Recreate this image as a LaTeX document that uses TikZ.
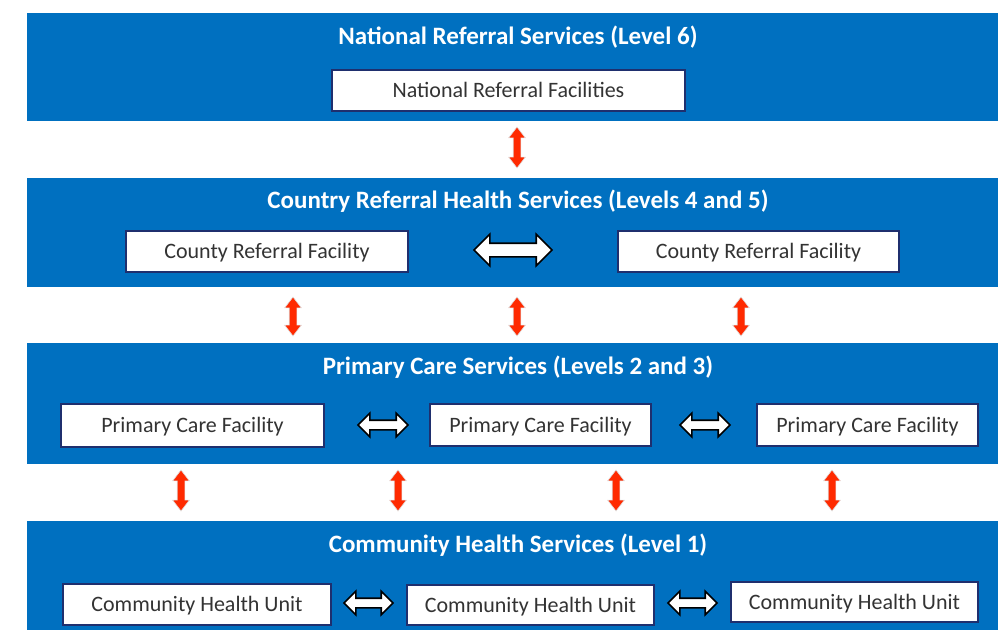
\documentclass[tikz,border=0pt]{standalone}
\usepackage{fontspec}
\setmainfont{Carlito}
\usetikzlibrary{shapes.arrows}
\definecolor{bandblue}{HTML}{0070C0}
\definecolor{navy}{HTML}{1F2F6E}
\definecolor{txtgray}{HTML}{333333}
\definecolor{arrred}{HTML}{FF2A00}
\tikzset{
  band/.style={fill=bandblue, draw=none, inner sep=0pt, anchor=north west},
  title/.style={text=white, draw=white, line width=0.25pt, font=\bfseries\fontsize{25}{28}\selectfont, inner sep=0pt, anchor=base, draw=none},
  facility/.style={draw=navy, line width=1.5pt, fill=white, text=txtgray,
    font=\fontsize{22}{26}\selectfont, inner sep=0pt, text height=14.2pt, text depth=0pt},
  vlink/.style={double arrow, rotate=90, fill=arrred, draw=black!12,
    line width=0.6pt, minimum height=41pt, inner xsep=0pt, inner ysep=3.5pt,
    double arrow head extend=4.5pt, double arrow tip angle=75},
  hlink/.style={double arrow, fill=white, draw=black, line width=1.6pt, inner xsep=0pt},
  hbig/.style={hlink, inner ysep=6pt, double arrow head extend=9pt},
  hsmall/.style={hlink, inner ysep=4pt, double arrow head extend=7pt},
}
\begin{document}
\begin{tikzpicture}[x=1pt,y=-1pt]
\useasboundingbox (0,0) rectangle (998,630);
% bands
\node[band, minimum width=971pt, minimum height=108pt] (b1) at (27,13) {};
\node[band, minimum width=971pt, minimum height=109pt] (b2) at (27,178) {};
\node[band, minimum width=971pt, minimum height=121pt] (b3) at (27,343) {};
\node[band, minimum width=971pt, minimum height=109pt] (b4) at (27,521) {};
% titles
\node[title] (t1) at (518,44) {National Referral Services (Level 6)};
\node[title] (t2) at (518,208) {Country Referral Health Services (Levels 4 and 5)};
\node[title] (t3) at (518,374) {Primary Care Services (Levels 2 and 3)};
\node[title] (t4) at (518,552) {Community Health Services (Level 1)};
% facilities
\node[facility, minimum width=353pt, minimum height=41pt] (n1) at (508.5,90.5) {National Referral Facilities};
\node[facility, minimum width=282pt, minimum height=41pt] (c1) at (267,251.5) {County Referral Facility};
\node[facility, minimum width=281pt, minimum height=41pt] (c2) at (758.5,251.5) {County Referral Facility};
\node[facility, minimum width=263pt, minimum height=43pt] (p1) at (192.5,425.5) {Primary Care Facility};
\node[facility, minimum width=221pt, minimum height=42pt] (p2) at (540.5,425) {Primary Care Facility};
\node[facility, minimum width=221pt, minimum height=42pt] (p3) at (867.5,425) {Primary Care Facility};
\node[facility, minimum width=268pt, minimum height=41pt] (u1) at (197,604.5) {Community Health Unit};
\node[facility, minimum width=247pt, minimum height=40pt] (u2) at (530.5,605) {Community Health Unit};
\node[facility, minimum width=247pt, minimum height=40pt] (u3) at (854.5,602) {Community Health Unit};
% horizontal links
\node[hbig, minimum height=78pt] (hc) at (513,250) {};
\node[hsmall, minimum height=50pt] (hp1) at (383,425) {};
\node[hsmall, minimum height=50pt] (hp2) at (705,425) {};
\node[hsmall, minimum height=49pt] (hu1) at (368.5,603) {};
\node[hsmall, minimum height=49pt] (hu2) at (692.5,603) {};
% vertical links
\node[vlink] (v1) at (517,147.5) {};
\node[vlink, minimum height=39pt] (v2) at (293,316.5) {};
\node[vlink, minimum height=39pt] (v3) at (517,316.5) {};
\node[vlink, minimum height=39pt] (v4) at (741,316.5) {};
\node[vlink] (v5) at (181,490.5) {};
\node[vlink] (v6) at (398,490.5) {};
\node[vlink] (v7) at (616,490.5) {};
\node[vlink] (v8) at (832,490.5) {};
\end{tikzpicture}
\end{document}
